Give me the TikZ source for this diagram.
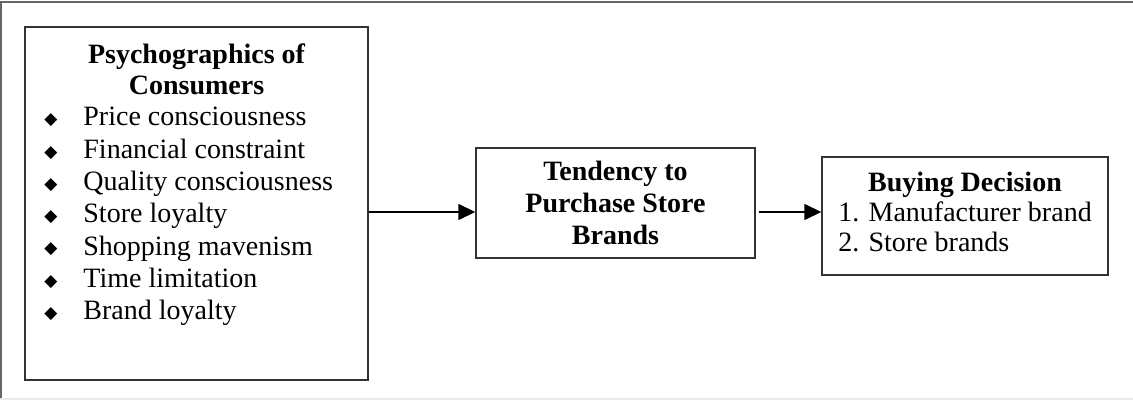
\documentclass[tikz,border=0pt]{standalone}
\usepackage{fontspec}
\setmainfont{Liberation Serif}
\newfontfamily\symbolfont{DejaVu Sans}
\usetikzlibrary{positioning,arrows.meta}
\newcommand{\diamondbullet}{\makebox[19.5pt][l]{\raisebox{0.6pt}{\symbolfont\fontsize{8.5}{8.5}\selectfont ◆}}}

\tikzset{
    box/.style={draw=black!80, line width=0.7pt, inner sep=0pt, align=center},
    flow/.style={line width=0.75pt, -{Triangle[length=8.5pt,width=8pt]}},
    itemtext/.style={anchor=base west, inner sep=0pt},
}

\begin{document}
\begin{tikzpicture}[x=0.5pt, y=-0.5pt, font=\fontsize{14}{16}\selectfont]
        \useasboundingbox (0,0) rectangle (1133,400);
        % outer frame
        \draw[black!60, line width=0.8pt] (1,398) -- (1,2) -- (1133,2);
        \draw[black!8, line width=1pt] (0,399) -- (1133,399);
        % boxes
        \node[box, minimum width=171.5pt, minimum height=176.5pt] (psy) at (196.5,203.5) {};
        \node[box, minimum width=139.5pt, minimum height=55pt, font=\fontsize{14}{16}\selectfont\bfseries] (tend) at (615.5,203) {Tendency to\\Purchase Store\\Brands};
        \node[box, minimum width=143pt, minimum height=59pt, font=\fontsize{14}{15}\selectfont] (dec) at (965,216) {%
            \begin{tabular}{@{}l@{}}
                \multicolumn{1}{@{}c@{}}{\bfseries Buying Decision}\\
                1. Manufacturer brand\\
                2. Store brands
            \end{tabular}};
        % title and list of the first box
        \node[inner sep=0pt, anchor=north, align=center, font=\fontsize{14}{15.5}\selectfont\bfseries] (psytitle) at (196.5,43) {Psychographics of\\Consumers};
        \foreach \txt [count=\i] in {Price consciousness, Financial constraint, Quality consciousness, Store loyalty, Shopping mavenism, Time limitation, Brand loyalty}
            \node[itemtext] (item\i) at (44,{126+32.3*(\i-1)}) {\diamondbullet\txt};
        % arrows
        \coordinate (arrowrow) at (0,212);
        \draw[flow] (psy.east |- arrowrow) -- (tend.west |- arrowrow);
        \draw[flow] ([xshift=1.5pt]tend.east |- arrowrow) -- (dec.west |- arrowrow);
    \end{tikzpicture}
\end{document}
